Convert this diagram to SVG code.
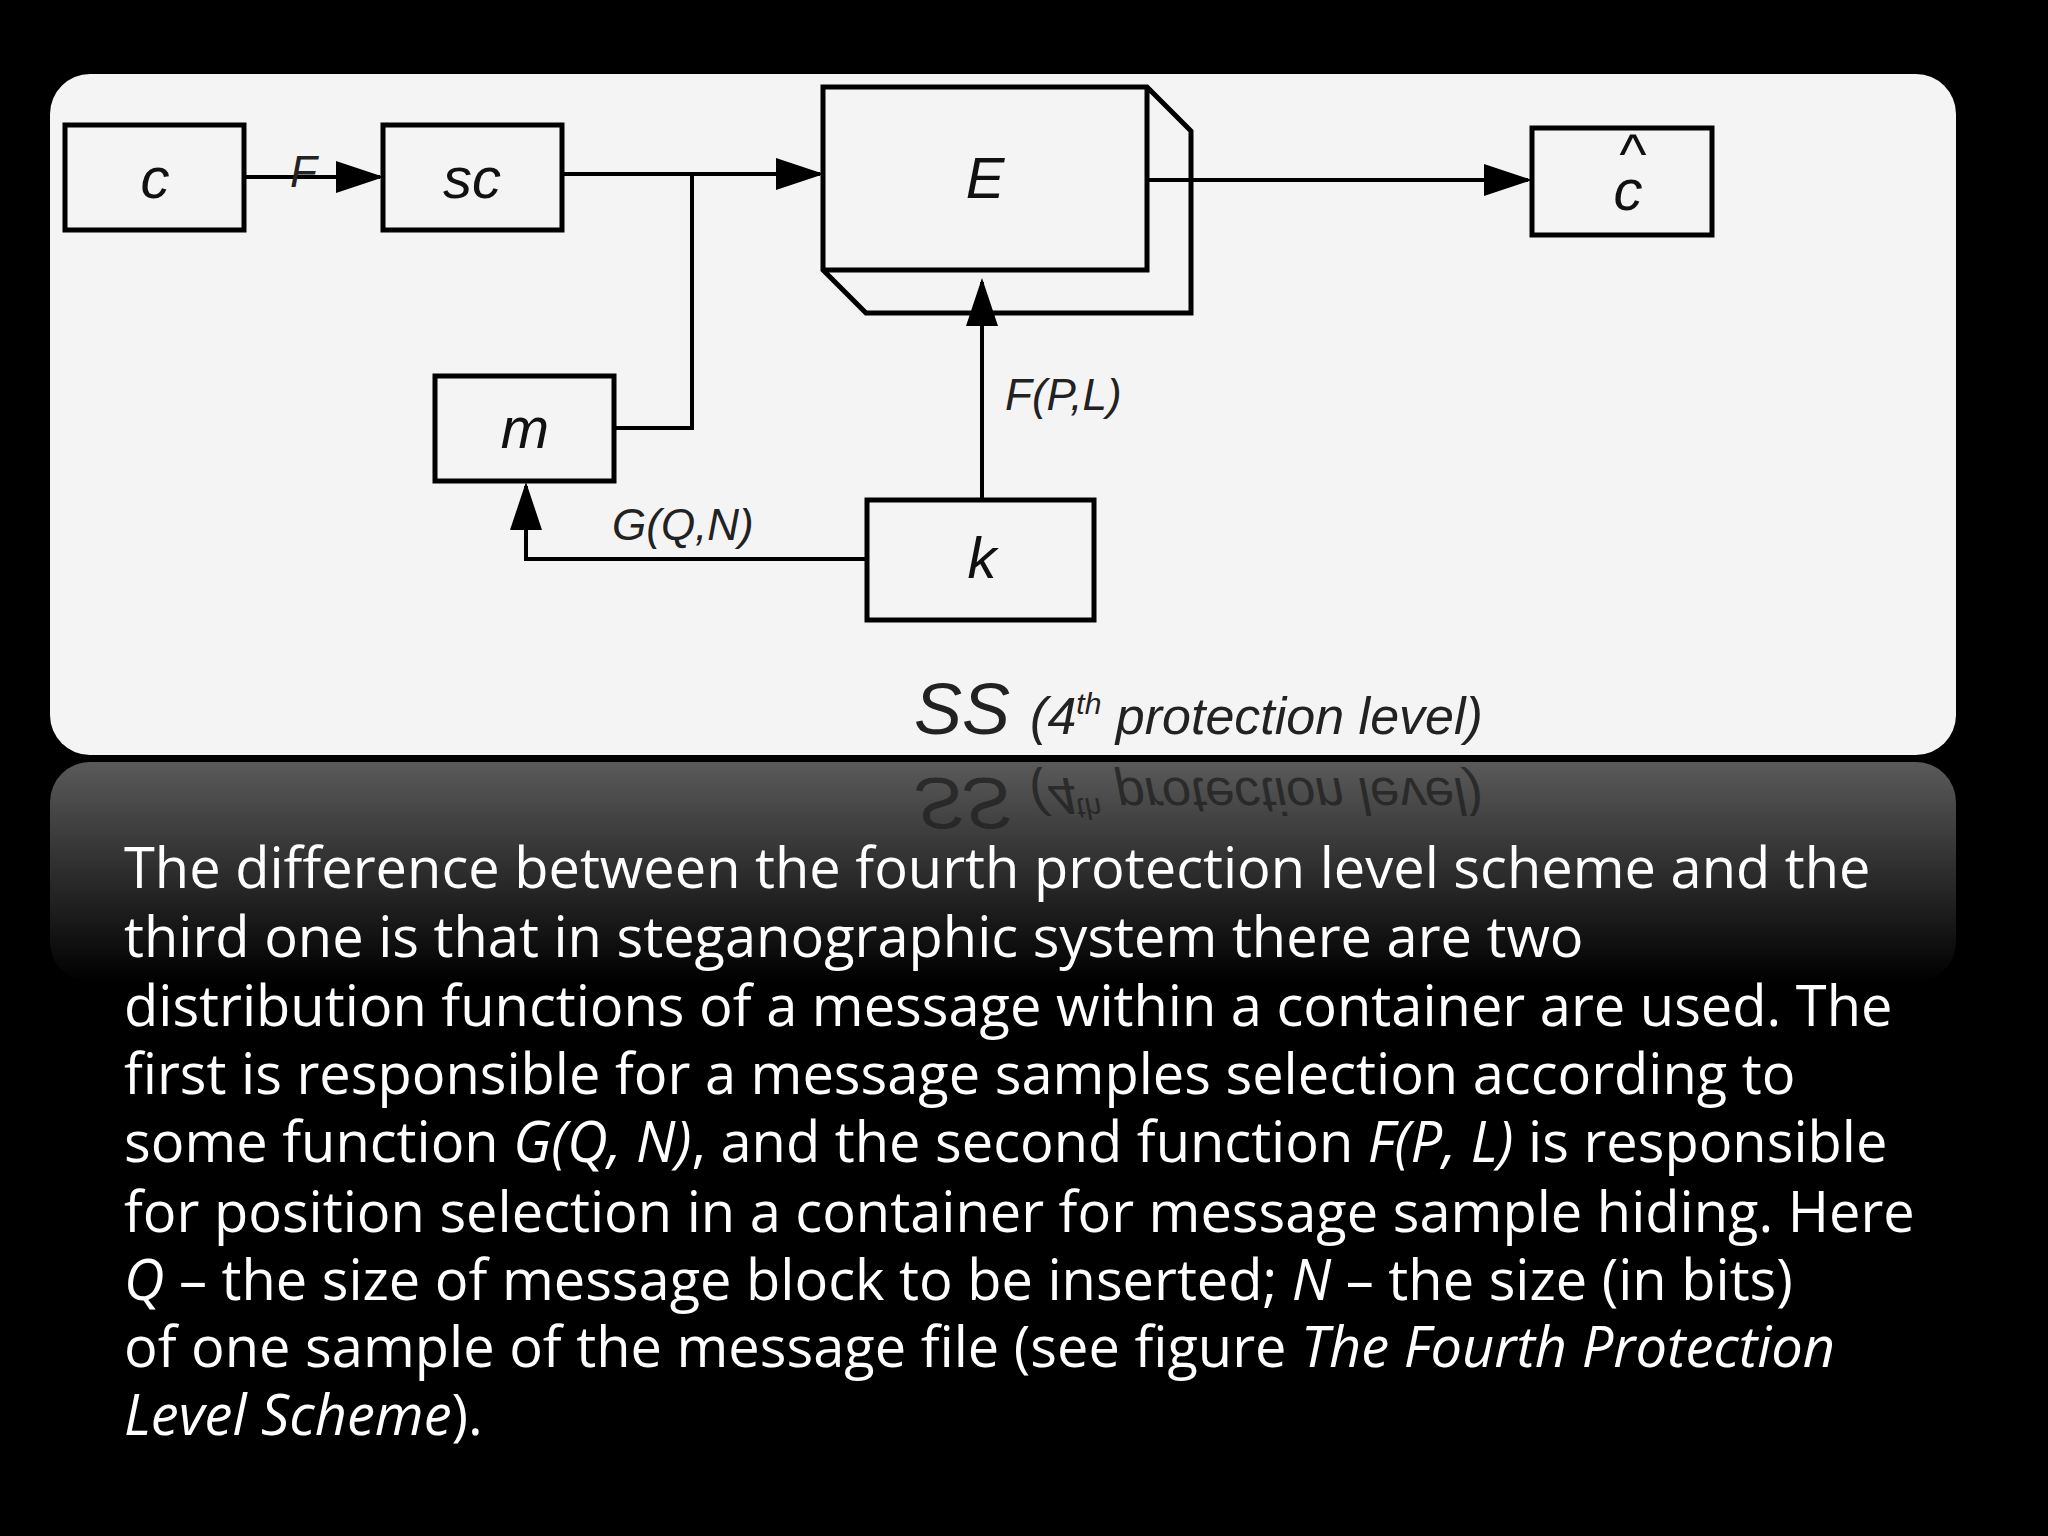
<svg xmlns="http://www.w3.org/2000/svg" width="2048" height="1536" viewBox="0 0 2048 1536">
<defs>
<style>
.b{fill:none;stroke:#000;stroke-width:5}
.l{fill:none;stroke:#000;stroke-width:4}
.n{font-family:"Liberation Sans",Arial,sans-serif;font-style:italic;font-size:58px;text-anchor:middle;fill:#111}
.lab{font-family:"Liberation Sans",Arial,sans-serif;font-style:italic;font-size:44px;fill:#222}
.cap{font-family:"Liberation Sans",Arial,sans-serif;font-style:italic;font-size:72px;fill:#222}
.t{font-family:"Open Sans","DejaVu Sans",sans-serif;font-size:56px;fill:#fff}
</style>
<marker id="a" markerWidth="12" markerHeight="8" refX="11" refY="4" orient="auto" markerUnits="strokeWidth"><path d="M0,0L12,4L0,8z" fill="#000"/></marker>
<linearGradient id="rg" x1="0" y1="0" x2="0" y2="1"><stop offset="0" stop-color="#5a5a5a"/><stop offset="1" stop-color="#000"/></linearGradient>
</defs>
<rect width="2048" height="1536" fill="#000"/>
<rect x="50" y="762" width="1906" height="220" rx="40" fill="url(#rg)"/>
<text transform="translate(0,1512) scale(1,-1)" x="914" y="734" class="cap" opacity="0.8">SS <tspan font-size="52">(4<tspan font-size="30" dy="-20">th</tspan><tspan dy="20"> protection level)</tspan></tspan></text>
<rect x="50" y="74" width="1906" height="681" rx="40" fill="#f4f4f4"/>
<g id="c"><rect class="b" x="65" y="125" width="179" height="105"/><text class="n" x="155" y="198">c</text></g>
<g id="sc"><rect class="b" x="383" y="125" width="179" height="105"/><text class="n" x="472" y="198">sc</text></g>
<g id="E"><path class="b" d="M823,87H1147L1191,131V313H866L823,270Z M1147,87V270H823"/><text class="n" x="985" y="198">E</text></g>
<g id="chat"><rect class="b" x="1532" y="128" width="180" height="107"/><text class="n" x="1628" y="210">c</text><text class="n" x="1632" y="174" font-size="32">^</text></g>
<g id="m"><rect class="b" x="435" y="376" width="179" height="105"/><text class="n" x="525" y="448">m</text></g>
<g id="k"><rect class="b" x="867" y="500" width="227" height="120"/><text class="n" x="982" y="578">k</text></g>
<g id="connectors">
<path class="l" d="M244,177H380" marker-end="url(#a)"/>
<path class="l" d="M562,174H820" marker-end="url(#a)"/>
<path class="l" d="M614,428H692V174"/>
<path class="l" d="M1149,180H1528" marker-end="url(#a)"/>
<path class="l" d="M982,500V282" marker-end="url(#a)"/>
<path class="l" d="M867,559H526V486" marker-end="url(#a)"/>
</g>
<text class="lab" x="290" y="187">F</text>
<text class="lab" x="1005" y="410">F(P,L)</text>
<text class="lab" x="612" y="540">G(Q,N)</text>
<text class="cap" x="914" y="734">SS <tspan font-size="52">(4<tspan font-size="30" dy="-20">th</tspan><tspan dy="20"> protection level)</tspan></tspan></text>
<g class="t">
<text x="124" y="888">The difference between the fourth protection level scheme and the</text>
<text x="124" y="957">third one is that in steganographic system there are two</text>
<text x="124" y="1026">distribution functions of a message within a container are used. The</text>
<text x="124" y="1094">first is responsible for a message samples selection according to</text>
<text x="124" y="1162">some function <tspan font-style="italic">G(Q, N)</tspan>, and the second function <tspan font-style="italic">F(P, L)</tspan> is responsible</text>
<text x="124" y="1232">for position selection in a container for message sample hiding. Here</text>
<text x="124" y="1300"><tspan font-style="italic">Q</tspan> – the size of message block to be inserted; <tspan font-style="italic">N</tspan> – the size (in bits)</text>
<text x="124" y="1367">of one sample of the message file (see figure <tspan font-style="italic">The Fourth Protection</tspan></text>
<text x="124" y="1435"><tspan font-style="italic">Level Scheme</tspan>).</text>
</g>
</svg>
